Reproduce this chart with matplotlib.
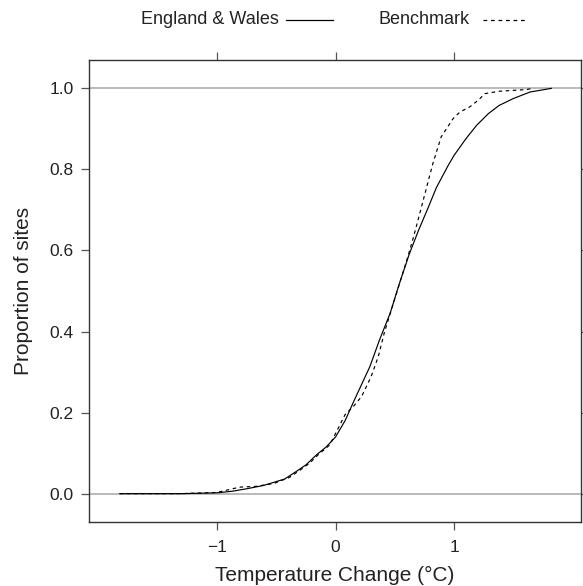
import matplotlib
matplotlib.use('Agg')
import matplotlib.pyplot as plt
from matplotlib.lines import Line2D
import numpy as np

plt.rcParams['font.family'] = ['Liberation Sans', 'DejaVu Sans']

# cumulative proportion of sites vs temperature change
ew_x = [-1.82, -1.3, -1.0, -0.87, -0.75, -0.61, -0.43, -0.33, -0.25, -0.16, -0.08,
        0.0, 0.08, 0.16, 0.29, 0.37, 0.46, 0.53, 0.62, 0.70, 0.78, 0.85, 0.95,
        1.00, 1.10, 1.19, 1.29, 1.38, 1.50, 1.64, 1.82]
ew_y = [0.0, 0.0, 0.002, 0.006, 0.012, 0.020, 0.036, 0.055, 0.071, 0.096, 0.115,
        0.14, 0.18, 0.232, 0.314, 0.379, 0.445, 0.511, 0.59, 0.65, 0.705, 0.755, 0.81,
        0.835, 0.876, 0.909, 0.938, 0.958, 0.975, 0.991, 1.0]

bm_x = [-1.82, -1.3, -1.0, -0.81, -0.67, -0.52, -0.39, -0.30, -0.22, -0.15, -0.05,
        0.02, 0.08, 0.15, 0.22, 0.30, 0.36, 0.41, 0.47, 0.54, 0.61, 0.65, 0.68,
        0.75, 0.82, 0.89, 0.99, 1.05, 1.13, 1.20, 1.26, 1.38, 1.61, 1.66]
bm_y = [0.0, 0.0, 0.003, 0.016, 0.018, 0.025, 0.04, 0.058, 0.075, 0.095, 0.12,
        0.16, 0.195, 0.215, 0.24, 0.289, 0.338, 0.396, 0.453, 0.519, 0.585, 0.626, 0.658,
        0.736, 0.814, 0.88, 0.925, 0.942, 0.954, 0.970, 0.987, 0.993, 0.997, 1.0]

series_names = ['England & Wales', 'Benchmark']
xticks = [-1, 0, 1]
xtick_labels = ['\u22121', '0', '1']
yticks = [0.0, 0.2, 0.4, 0.6, 0.8, 1.0]

txt = '#222222'
frame = '#333333'

fig = plt.figure(figsize=(5.83, 5.86), dpi=100)
ax = fig.add_axes([89/583, 64/586, 492/583, 462/586])

# reference lines
ax.axhline(0, color='#b4b4b4', lw=1.3, zorder=1)
ax.axhline(1, color='#b4b4b4', lw=1.3, zorder=1)

ax.plot(ew_x, ew_y, color='black', lw=0.85, zorder=3)
ax.plot(bm_x, bm_y, color='black', lw=0.85, ls=(0, (3, 3)), zorder=3)

ax.set_xlim(-2.08, 2.07)
ax.set_ylim(-0.07, 1.07)

ax.set_xticks(xticks)
ax.set_xticklabels(xtick_labels)
ax.set_yticks(yticks)
ax.set_yticklabels(['%.1f' % v for v in yticks])
ax.tick_params(axis='both', direction='out', length=6, width=0.9, color='#555555',
               labelsize=12.5, labelcolor=txt, top=True, right=True,
               labeltop=False, labelright=False)
ax.tick_params(axis='x', pad=7)
ax.tick_params(axis='y', pad=5)
for s in ax.spines.values():
    s.set_color(frame)
    s.set_linewidth(1.0)

ax.set_xlabel('Temperature Change (\u00b0C)', fontsize=15, color=txt, labelpad=8)
ax.set_ylabel('Proportion of sites', fontsize=15, color=txt, labelpad=12)

# key on top, text followed by line sample
fig.text(279/583, 1 - 19/586, series_names[0], ha='right', va='center',
         fontsize=13, color=txt)
fig.add_artist(Line2D([286/583, 333/583], [1 - 20/586, 1 - 20/586],
                      color='black', lw=0.9))
fig.text(470/583, 1 - 19/586, series_names[1], ha='right', va='center',
         fontsize=13, color=txt)
fig.add_artist(Line2D([483/583, 528/583], [1 - 20/586, 1 - 20/586],
                      color='black', lw=0.9, ls=(0, (3, 3))))

fig.savefig('out.png', dpi=100)
